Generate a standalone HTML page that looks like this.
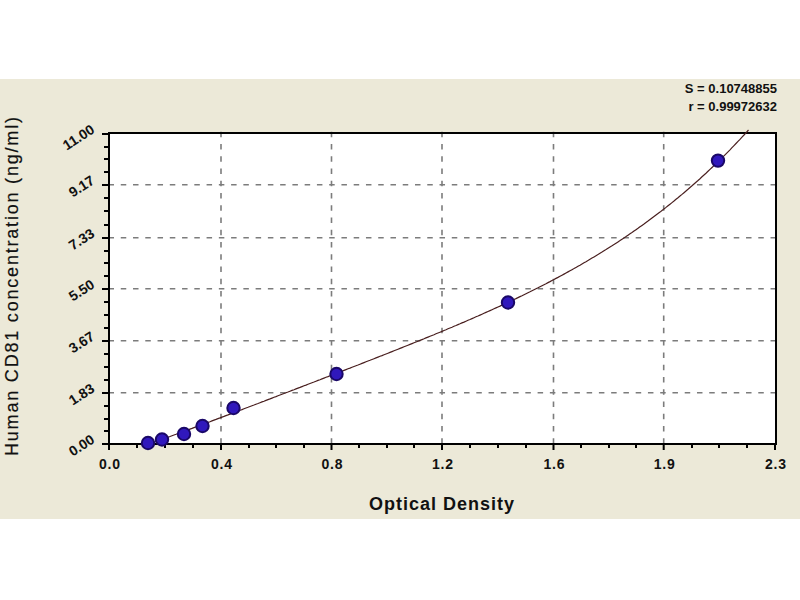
<!DOCTYPE html>
<html><head><meta charset="utf-8"><style>
html,body{margin:0;padding:0;background:#fff;width:800px;height:600px;overflow:hidden}
svg{display:block}
text{font-family:"Liberation Sans",sans-serif;fill:#111}
</style></head><body>
<svg width="800" height="600" viewBox="0 0 800 600">
<rect x="0" y="79" width="800" height="440" fill="#ECE9D8"/>
<rect x="109" y="133" width="667" height="311" fill="#FFFFFF"/>
<line x1="221" y1="131.7" x2="221" y2="443" stroke="#7c7c7c" stroke-width="1.6" stroke-dasharray="5.5 6.76"/>
<line x1="331.5" y1="131.7" x2="331.5" y2="443" stroke="#7c7c7c" stroke-width="1.6" stroke-dasharray="5.5 6.76"/>
<line x1="442" y1="131.7" x2="442" y2="443" stroke="#7c7c7c" stroke-width="1.6" stroke-dasharray="5.5 6.76"/>
<line x1="553.5" y1="131.7" x2="553.5" y2="443" stroke="#7c7c7c" stroke-width="1.6" stroke-dasharray="5.5 6.76"/>
<line x1="663.7" y1="131.7" x2="663.7" y2="443" stroke="#7c7c7c" stroke-width="1.6" stroke-dasharray="5.5 6.76"/>
<line x1="108.5" y1="392.75" x2="775" y2="392.75" stroke="#7c7c7c" stroke-width="1.6" stroke-dasharray="5.5 6.76"/>
<line x1="108.5" y1="340.75" x2="775" y2="340.75" stroke="#7c7c7c" stroke-width="1.6" stroke-dasharray="5.5 6.76"/>
<line x1="108.5" y1="288.75" x2="775" y2="288.75" stroke="#7c7c7c" stroke-width="1.6" stroke-dasharray="5.5 6.76"/>
<line x1="108.5" y1="237.75" x2="775" y2="237.75" stroke="#7c7c7c" stroke-width="1.6" stroke-dasharray="5.5 6.76"/>
<line x1="108.5" y1="184.75" x2="775" y2="184.75" stroke="#7c7c7c" stroke-width="1.6" stroke-dasharray="5.5 6.76"/>
<rect x="109" y="133" width="667" height="311" fill="none" stroke="#000" stroke-width="2"/>
<rect x="102" y="443" width="7" height="2" fill="#000"/>
<rect x="104" y="430" width="5" height="2" fill="#000"/>
<rect x="104" y="418" width="5" height="2" fill="#000"/>
<rect x="104" y="405" width="5" height="2" fill="#000"/>
<rect x="102" y="392" width="7" height="2" fill="#000"/>
<rect x="104" y="379" width="5" height="2" fill="#000"/>
<rect x="104" y="366" width="5" height="2" fill="#000"/>
<rect x="104" y="353" width="5" height="2" fill="#000"/>
<rect x="102" y="340" width="7" height="2" fill="#000"/>
<rect x="104" y="327" width="5" height="2" fill="#000"/>
<rect x="104" y="314" width="5" height="2" fill="#000"/>
<rect x="104" y="301" width="5" height="2" fill="#000"/>
<rect x="102" y="288" width="7" height="2" fill="#000"/>
<rect x="104" y="275" width="5" height="2" fill="#000"/>
<rect x="104" y="262" width="5" height="2" fill="#000"/>
<rect x="104" y="250" width="5" height="2" fill="#000"/>
<rect x="102" y="237" width="7" height="2" fill="#000"/>
<rect x="104" y="224" width="5" height="2" fill="#000"/>
<rect x="104" y="210" width="5" height="2" fill="#000"/>
<rect x="104" y="197" width="5" height="2" fill="#000"/>
<rect x="102" y="184" width="7" height="2" fill="#000"/>
<rect x="104" y="171" width="5" height="2" fill="#000"/>
<rect x="104" y="158" width="5" height="2" fill="#000"/>
<rect x="104" y="146" width="5" height="2" fill="#000"/>
<rect x="102" y="133" width="7" height="2" fill="#000"/>
<rect x="108" y="443" width="2" height="7" fill="#000"/>
<rect x="136" y="443" width="2" height="5" fill="#000"/>
<rect x="164" y="443" width="2" height="5" fill="#000"/>
<rect x="192" y="443" width="2" height="5" fill="#000"/>
<rect x="220" y="443" width="2" height="7" fill="#000"/>
<rect x="248" y="443" width="2" height="5" fill="#000"/>
<rect x="275" y="443" width="2" height="5" fill="#000"/>
<rect x="303" y="443" width="2" height="5" fill="#000"/>
<rect x="330.5" y="443" width="2" height="7" fill="#000"/>
<rect x="358" y="443" width="2" height="5" fill="#000"/>
<rect x="386" y="443" width="2" height="5" fill="#000"/>
<rect x="413" y="443" width="2" height="5" fill="#000"/>
<rect x="441" y="443" width="2" height="7" fill="#000"/>
<rect x="469" y="443" width="2" height="5" fill="#000"/>
<rect x="497" y="443" width="2" height="5" fill="#000"/>
<rect x="525" y="443" width="2" height="5" fill="#000"/>
<rect x="552.5" y="443" width="2" height="7" fill="#000"/>
<rect x="580" y="443" width="2" height="5" fill="#000"/>
<rect x="608" y="443" width="2" height="5" fill="#000"/>
<rect x="635" y="443" width="2" height="5" fill="#000"/>
<rect x="662.7" y="443" width="2" height="7" fill="#000"/>
<rect x="691" y="443" width="2" height="5" fill="#000"/>
<rect x="718" y="443" width="2" height="5" fill="#000"/>
<rect x="746" y="443" width="2" height="5" fill="#000"/>
<rect x="774" y="443" width="2" height="7" fill="#000"/>
<path d="M148.0,444.4 L150.0,443.6 L152.0,442.9 L154.0,442.2 L156.0,441.5 L158.0,440.8 L160.0,440.1 L162.0,439.4 L164.0,438.6 L166.0,437.9 L168.0,437.2 L170.0,436.5 L172.0,435.7 L174.0,435.0 L176.0,434.3 L178.0,433.5 L180.0,432.8 L182.0,432.1 L184.0,431.3 L186.0,430.6 L188.0,429.9 L190.0,429.1 L192.0,428.4 L194.0,427.6 L196.0,426.9 L198.0,426.1 L200.0,425.4 L202.0,424.6 L204.0,423.9 L206.0,423.2 L208.0,422.4 L210.0,421.7 L212.0,420.9 L214.0,420.1 L216.0,419.4 L218.0,418.6 L220.0,417.9 L222.0,417.1 L224.0,416.4 L226.0,415.6 L228.0,414.9 L230.0,414.1 L232.0,413.3 L234.0,412.6 L236.0,411.8 L238.0,411.1 L240.0,410.3 L242.0,409.6 L244.0,408.8 L246.0,408.0 L248.0,407.3 L250.0,406.5 L252.0,405.7 L254.0,405.0 L256.0,404.2 L258.0,403.5 L260.0,402.7 L262.0,401.9 L264.0,401.2 L266.0,400.4 L268.0,399.6 L270.0,398.9 L272.0,398.1 L274.0,397.3 L276.0,396.6 L278.0,395.8 L280.0,395.0 L282.0,394.3 L284.0,393.5 L286.0,392.7 L288.0,392.0 L290.0,391.2 L292.0,390.4 L294.0,389.7 L296.0,388.9 L298.0,388.1 L300.0,387.4 L302.0,386.6 L304.0,385.8 L306.0,385.1 L308.0,384.3 L310.0,383.5 L312.0,382.7 L314.0,382.0 L316.0,381.2 L318.0,380.4 L320.0,379.7 L322.0,378.9 L324.0,378.1 L326.0,377.3 L328.0,376.6 L330.0,375.8 L332.0,375.0 L334.0,374.3 L336.0,373.5 L338.0,372.7 L340.0,371.9 L342.0,371.2 L344.0,370.4 L346.0,369.6 L348.0,368.8 L350.0,368.1 L352.0,367.3 L354.0,366.5 L356.0,365.7 L358.0,365.0 L360.0,364.2 L362.0,363.4 L364.0,362.6 L366.0,361.8 L368.0,361.0 L370.0,360.3 L372.0,359.5 L374.0,358.7 L376.0,357.9 L378.0,357.1 L380.0,356.3 L382.0,355.6 L384.0,354.8 L386.0,354.0 L388.0,353.2 L390.0,352.4 L392.0,351.6 L394.0,350.8 L396.0,350.0 L398.0,349.2 L400.0,348.4 L402.0,347.6 L404.0,346.8 L406.0,346.0 L408.0,345.2 L410.0,344.4 L412.0,343.6 L414.0,342.8 L416.0,342.0 L418.0,341.2 L420.0,340.4 L422.0,339.6 L424.0,338.8 L426.0,337.9 L428.0,337.1 L430.0,336.3 L432.0,335.5 L434.0,334.7 L436.0,333.8 L438.0,333.0 L440.0,332.2 L442.0,331.4 L444.0,330.5 L446.0,329.7 L448.0,328.8 L450.0,328.0 L452.0,327.2 L454.0,326.3 L456.0,325.5 L458.0,324.6 L460.0,323.8 L462.0,322.9 L464.0,322.1 L466.0,321.2 L468.0,320.3 L470.0,319.5 L472.0,318.6 L474.0,317.7 L476.0,316.8 L478.0,316.0 L480.0,315.1 L482.0,314.2 L484.0,313.3 L486.0,312.4 L488.0,311.5 L490.0,310.6 L492.0,309.7 L494.0,308.8 L496.0,307.9 L498.0,307.0 L500.0,306.1 L502.0,305.1 L504.0,304.2 L506.0,303.3 L508.0,302.3 L510.0,301.4 L512.0,300.5 L514.0,299.5 L516.0,298.6 L518.0,297.6 L520.0,296.6 L522.0,295.7 L524.0,294.7 L526.0,293.7 L528.0,292.7 L530.0,291.8 L532.0,290.8 L534.0,289.8 L536.0,288.8 L538.0,287.8 L540.0,286.7 L542.0,285.7 L544.0,284.7 L546.0,283.7 L548.0,282.6 L550.0,281.6 L552.0,280.5 L554.0,279.5 L556.0,278.4 L558.0,277.4 L560.0,276.3 L562.0,275.2 L564.0,274.1 L566.0,273.0 L568.0,271.9 L570.0,270.8 L572.0,269.7 L574.0,268.6 L576.0,267.4 L578.0,266.3 L580.0,265.2 L582.0,264.0 L584.0,262.8 L586.0,261.7 L588.0,260.5 L590.0,259.3 L592.0,258.1 L594.0,256.9 L596.0,255.7 L598.0,254.5 L600.0,253.3 L602.0,252.1 L604.0,250.8 L606.0,249.6 L608.0,248.3 L610.0,247.0 L612.0,245.8 L614.0,244.5 L616.0,243.2 L618.0,241.9 L620.0,240.6 L622.0,239.2 L624.0,237.9 L626.0,236.6 L628.0,235.2 L630.0,233.8 L632.0,232.5 L634.0,231.1 L636.0,229.7 L638.0,228.3 L640.0,226.8 L642.0,225.4 L644.0,224.0 L646.0,222.5 L648.0,221.1 L650.0,219.6 L652.0,218.1 L654.0,216.6 L656.0,215.1 L658.0,213.6 L660.0,212.1 L662.0,210.5 L664.0,208.9 L666.0,207.4 L668.0,205.8 L670.0,204.2 L672.0,202.6 L674.0,201.0 L676.0,199.3 L678.0,197.7 L680.0,196.0 L682.0,194.4 L684.0,192.7 L686.0,191.0 L688.0,189.3 L690.0,187.5 L692.0,185.8 L694.0,184.0 L696.0,182.2 L698.0,180.5 L700.0,178.7 L702.0,176.8 L704.0,175.0 L706.0,173.2 L708.0,171.3 L710.0,169.4 L712.0,167.5 L714.0,165.6 L716.0,163.7 L718.0,161.8 L720.0,159.8 L722.0,157.8 L724.0,155.8 L726.0,153.8 L728.0,151.8 L730.0,149.8 L732.0,147.7 L734.0,145.6 L736.0,143.5 L738.0,141.4 L740.0,139.3 L742.0,137.1 L744.0,135.0 L746.0,132.8 L748.5,130.0" fill="none" stroke="#4a2020" stroke-width="1.2"/>
<circle cx="148" cy="443" r="6.2" fill="#3018bc" stroke="#1a0868" stroke-width="2"/>
<circle cx="162" cy="439.5" r="6.2" fill="#3018bc" stroke="#1a0868" stroke-width="2"/>
<circle cx="184" cy="434" r="6.2" fill="#3018bc" stroke="#1a0868" stroke-width="2"/>
<circle cx="202.5" cy="426" r="6.2" fill="#3018bc" stroke="#1a0868" stroke-width="2"/>
<circle cx="233.5" cy="408" r="6.2" fill="#3018bc" stroke="#1a0868" stroke-width="2"/>
<circle cx="336.5" cy="374" r="6.2" fill="#3018bc" stroke="#1a0868" stroke-width="2"/>
<circle cx="508" cy="302.5" r="6.2" fill="#3018bc" stroke="#1a0868" stroke-width="2"/>
<circle cx="718" cy="160.6" r="6.2" fill="#3018bc" stroke="#1a0868" stroke-width="2"/>
<text x="109.9" y="469" text-anchor="middle" font-size="14" font-weight="bold" letter-spacing="0.8">0.0</text>
<text x="221.9" y="469" text-anchor="middle" font-size="14" font-weight="bold" letter-spacing="0.8">0.4</text>
<text x="332.4" y="469" text-anchor="middle" font-size="14" font-weight="bold" letter-spacing="0.8">0.8</text>
<text x="442.9" y="469" text-anchor="middle" font-size="14" font-weight="bold" letter-spacing="0.8">1.2</text>
<text x="554.4" y="469" text-anchor="middle" font-size="14" font-weight="bold" letter-spacing="0.8">1.6</text>
<text x="664.6" y="469" text-anchor="middle" font-size="14" font-weight="bold" letter-spacing="0.8">1.9</text>
<text x="775.9" y="469" text-anchor="middle" font-size="14" font-weight="bold" letter-spacing="0.8">2.3</text>
<text transform="translate(95.5,442) rotate(-33)" text-anchor="end" font-size="14" font-weight="bold">0.00</text>
<text transform="translate(95.5,391) rotate(-33)" text-anchor="end" font-size="14" font-weight="bold">1.83</text>
<text transform="translate(95.5,339) rotate(-33)" text-anchor="end" font-size="14" font-weight="bold">3.67</text>
<text transform="translate(95.5,287) rotate(-33)" text-anchor="end" font-size="14" font-weight="bold">5.50</text>
<text transform="translate(95.5,236) rotate(-33)" text-anchor="end" font-size="14" font-weight="bold">7.33</text>
<text transform="translate(95.5,183) rotate(-33)" text-anchor="end" font-size="14" font-weight="bold">9.17</text>
<text transform="translate(95.5,132) rotate(-33)" text-anchor="end" font-size="14" font-weight="bold">11.00</text>
<text x="442" y="510" text-anchor="middle" font-size="18" font-weight="bold" letter-spacing="1">Optical Density</text>
<text transform="translate(18,456) rotate(-90)" font-size="18" letter-spacing="1.8" stroke="#111" stroke-width="0.2">Human CD81 concentration (ng/ml)</text>
<text x="777" y="93" text-anchor="end" font-size="13" font-weight="bold">S = 0.10748855</text>
<text x="777" y="111" text-anchor="end" font-size="13" font-weight="bold">r = 0.99972632</text>
</svg>
</body></html>
